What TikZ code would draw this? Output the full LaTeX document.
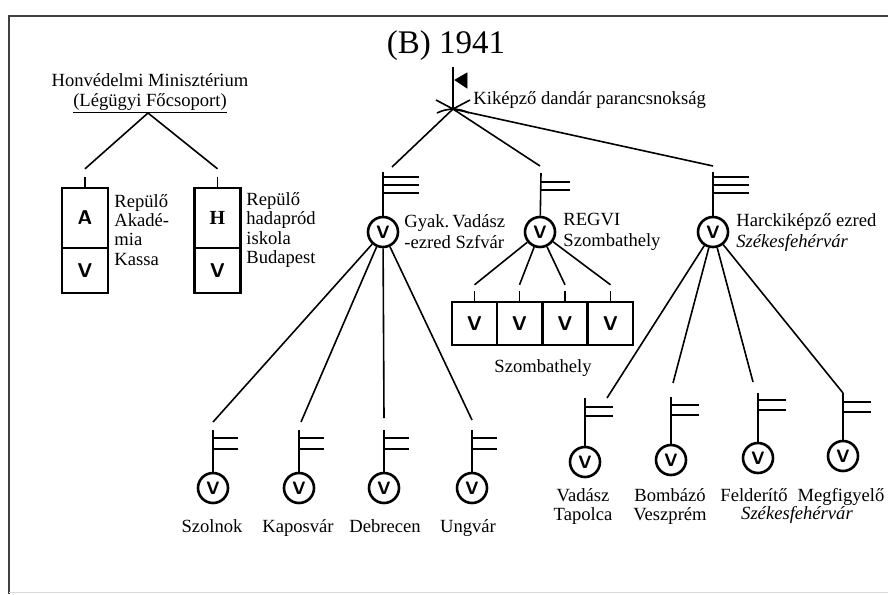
\documentclass[tikz,border=0pt]{standalone}
\usepackage{fontspec}
\setmainfont{Liberation Serif}
\usepackage{tikz}
\usetikzlibrary{positioning}
\frenchspacing
\tikzset{
    unit/.style={circle, draw, line width=1.3pt, minimum size=15pt, inner sep=0pt, font=\sffamily\bfseries\fontsize{9}{9}\selectfont},
    cell/.style={rectangle, draw, line width=1.2pt, minimum width=23pt, inner sep=0pt, font=\sffamily\bfseries\fontsize{10}{10}\selectfont},
    lbl/.style={inner sep=0pt, font=\fontsize{9.3}{9.6}\selectfont},
    lblwide/.style={inner sep=0pt, font=\fontsize{9.3}{10.5}\selectfont},
    link/.style={line width=0.8pt},
}
\newcommand{\drawThreeBars}[2]{
    \draw[link] (#1,#2+5) -- (#1+36,#2+5);
    \draw[link] (#1,#2+13) -- (#1+36,#2+13);
    \draw[link] (#1,#2+21) -- (#1+36,#2+21)
}
\newcommand{\drawTwoBars}[4]{
    \draw[link] (#1,#2) -- (#1+#4,#2);
    \draw[link] (#1,#3) -- (#1+#4,#3)
}
\newcommand{\drawTick}[1]{
    \draw[link] (#1.north) -- ++(0,-10)
}

\begin{document}
\begin{tikzpicture}[x=0.5pt, y=-0.5pt]
            \useasboundingbox (0,0) rectangle (888,594);
            \draw[line width=1.3pt, black!75] (9,594) -- (9,16) -- (888,16);
            \draw[black!15] (9,592) -- (888,592);

            \node[font=\fontsize{16.5}{16.5}\selectfont] (title) at (446,46) {(B) 1941};

            \node[lbl, align=center] (hm) at (150,94) {Honvédelmi Minisztérium\\\underline{(Légügyi Főcsoport)}};
            \coordinate (hmJ) at (148,113);
            \node[cell, minimum height=30pt] (boxA) at (85,218) {A};
            \node[cell, minimum height=22.5pt] (boxAV) at (85,270.5) {V};
            \node[cell, minimum height=30pt, font=\bfseries\fontsize{10}{10}\selectfont] (boxH) at (217.5,218) {H};
            \node[cell, minimum height=22.5pt] (boxHV) at (217.5,270.5) {V};
            \drawTick{boxA};
            \drawTick{boxH};
            \coordinate (akIn) at ([yshift=9pt]boxA.north);
            \coordinate (hdIn) at ([yshift=9pt]boxH.north);
            \draw[link] (hmJ) -- (akIn);
            \draw[link] (hmJ) -- (hdIn);
            \node[lbl, anchor=west, align=left] (akText) at (114,230) {Repülő\\Akadé-\\mia\\Kassa};
            \node[lbl, anchor=west, align=left] (hdText) at (246,230) {Repülő\\hadapród\\iskola\\Budapest};

            \coordinate (cmd) at (453,109);
            \draw[link] (453,67) -- (cmd);
            \filldraw[black] (455,80) -- (467,73) -- (467,88) -- cycle;
            \draw[link] (436,100) .. controls (444,104) .. (cmd) .. controls (444,110) .. (437,113);
            \draw[link] (470,100) .. controls (462,104) .. (cmd) .. controls (462,110) .. (469,113);
            \node[lbl, anchor=base west] (cmdText) at (473,104) {Kiképző dandár parancsnokság};

            \node[unit] (gyak) at (383,232) {V};
            \node[unit] (regvi) at (540,232) {V};
            \node[unit] (harc) at (713,232) {V};
            \draw[link] (383,172) -- (gyak);
            \draw[link] (541,173) -- (regvi);
            \draw[link] (713,172) -- (harc);
            \drawThreeBars{383}{172};
            \drawTwoBars{541}{182}{190}{29};
            \drawThreeBars{713}{172};
            \coordinate (gyakIn) at (392,167);
            \coordinate (regviIn) at (540,166);
            \coordinate (harcIn) at (713,166);
            \draw[link] (cmd) -- (gyakIn);
            \draw[link] (cmd) -- (regviIn);
            \draw[link] (cmd) -- (harcIn);
            \node[lblwide, anchor=west, align=left] (gyakText) at (404,232) {Gyak.\,Vadász\\-ezred Szfvár};
            \node[lblwide, anchor=west, align=left] (regviText) at (563,232) {REGVI\\Szombathely};
            \node[lblwide, anchor=west, align=left] (harcText) at (736,233) {Harckiképző ezred\\\textit{Székesfehérvár}};

            \node[cell, minimum width=22.5pt, minimum height=21.5pt] (sz1) at (474.5,323.5) {V};
            \node[cell, minimum width=22.5pt, minimum height=21.5pt] (sz2) at (519.5,323.5) {V};
            \node[cell, minimum width=22.5pt, minimum height=21.5pt] (sz3) at (565,323.5) {V};
            \node[cell, minimum width=22.5pt, minimum height=21.5pt] (sz4) at (610.5,323.5) {V};
            \drawTick{sz1};
            \drawTick{sz2};
            \drawTick{sz3};
            \drawTick{sz4};
            \draw[link] (regvi) -- ([yshift=8pt]sz1.north);
            \draw[link] (regvi) -- ([yshift=8pt]sz2.north);
            \draw[link] (regvi) -- ([yshift=8pt]sz3.north);
            \draw[link] (regvi) -- ([yshift=8pt]sz4.north);
            \node[lbl, anchor=base] (szText) at (543,372) {Szombathely};

            \node[unit] (szolnok) at (213,488) {V};
            \node[unit] (kaposvar) at (299,488) {V};
            \node[unit] (debrecen) at (384,488) {V};
            \node[unit] (ungvar) at (472,488) {V};
            \draw[link] (213,430) -- (szolnok);
            \draw[link] (299,430) -- (kaposvar);
            \draw[link] (384,430) -- (debrecen);
            \draw[link] (472,430) -- (ungvar);
            \drawTwoBars{213}{438}{449}{25};
            \drawTwoBars{299}{438}{449}{25};
            \drawTwoBars{384}{438}{449}{25};
            \drawTwoBars{472}{438}{449}{25};
            \coordinate (szolIn) at (213,422);
            \coordinate (kapIn) at (301,422);
            \coordinate (debIn) at (384,418);
            \coordinate (ungIn) at (472,420);
            \draw[link] (gyak) -- (szolIn);
            \draw[link] (gyak) -- (kapIn);
            \draw[link] (gyak) -- (debIn);
            \draw[link] (gyak) -- (ungIn);
            \node[lbl, anchor=base] (szolText) at (212,532) {Szolnok};
            \node[lbl, anchor=base] (kapText) at (298,532) {Kaposvár};
            \node[lbl, anchor=base] (debText) at (385,532) {Debrecen};
            \node[lbl, anchor=base] (ungText) at (468,532) {Ungvár};

            \node[unit] (vadasz) at (585,462) {V};
            \node[unit] (bombazo) at (671,460) {V};
            \node[unit] (felderito) at (758,458) {V};
            \node[unit] (megfigyelo) at (843,456) {V};
            \draw[link] (585,398) -- (vadasz);
            \draw[link] (671,397) -- (bombazo);
            \draw[link] (758,393) -- (felderito);
            \draw[link] (843,393) -- (megfigyelo);
            \drawTwoBars{585}{407}{416}{28};
            \drawTwoBars{671}{405}{415}{28};
            \drawTwoBars{758}{400}{410}{28};
            \drawTwoBars{843}{402}{412}{28};
            \coordinate (vadIn) at (607,398);
            \coordinate (bombIn) at (673,383);
            \coordinate (feldIn) at (753,382);
            \coordinate (megfIn) at (843,393);
            \draw[link] (harc) -- (vadIn);
            \draw[link] (harc) -- (bombIn);
            \draw[link] (harc) -- (feldIn);
            \draw[link] (harc) -- (megfIn);
            \node[lbl, anchor=base] (vadText) at (583,501) {Vadász};
            \node[lbl, anchor=base] (tapText) at (583,520) {Tapolca};
            \node[lbl, anchor=base] (bombText) at (670,501) {Bombázó};
            \node[lbl, anchor=base] (veszText) at (670,520) {Veszprém};
            \node[lbl, anchor=base] (feldText) at (754,501) {Felderítő};
            \node[lbl, anchor=base] (megfText) at (841,501) {Megfigyelő};
            \node[lbl, anchor=base] (sfvText) at (797,519) {\textit{Székesfehérvár}};
\end{tikzpicture}
\end{document}
